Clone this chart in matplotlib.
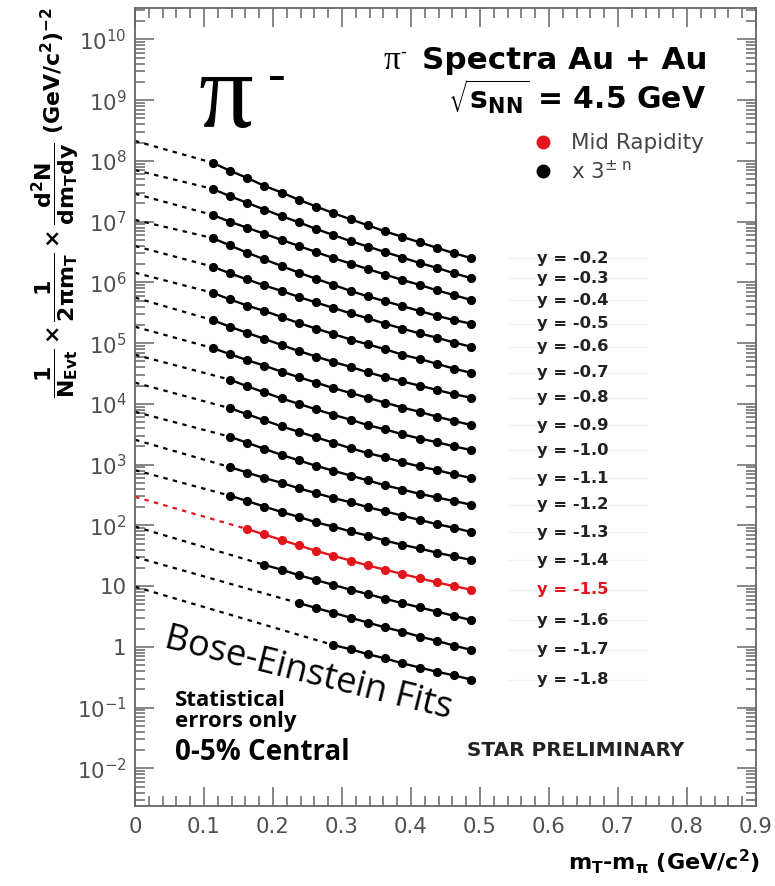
import numpy as np
import matplotlib
matplotlib.use("Agg")
import matplotlib.pyplot as plt
from matplotlib.ticker import FixedLocator, MultipleLocator, LogLocator, NullFormatter
from matplotlib.lines import Line2D

# m_T - m_pi bin centres (GeV/c^2)
mt_bins = [0.1125, 0.1375, 0.1625, 0.1875, 0.2125, 0.2375, 0.2625, 0.2875,
           0.3125, 0.3375, 0.3625, 0.3875, 0.4125, 0.4375, 0.4625, 0.4875]

rapidity = ['-0.2', '-0.3', '-0.4', '-0.5', '-0.6', '-0.7', '-0.8', '-0.9',
            '-1.0', '-1.1', '-1.2', '-1.3', '-1.4', '-1.5', '-1.6', '-1.7', '-1.8']

# index of first measured bin for every rapidity slice
first_bin = [0, 0, 0, 0, 0, 0, 0, 0, 1, 1, 1, 1, 1, 2, 3, 5, 7]

# log10 of the (scaled) yields
y_m02 = [7.97, 7.84, 7.72, 7.59, 7.48, 7.36, 7.25, 7.14, 7.04, 6.94, 6.84, 6.75, 6.66, 6.57, 6.48, 6.40]
y_m03 = [7.54, 7.42, 7.31, 7.20, 7.09, 6.99, 6.88, 6.78, 6.68, 6.59, 6.50, 6.41, 6.32, 6.24, 6.15, 6.07]
y_m04 = [7.11, 7.00, 6.90, 6.80, 6.70, 6.60, 6.50, 6.40, 6.31, 6.22, 6.13, 6.04, 5.96, 5.87, 5.79, 5.71]
y_m05 = [6.73, 6.61, 6.49, 6.38, 6.27, 6.16, 6.06, 5.96, 5.86, 5.77, 5.69, 5.61, 5.53, 5.45, 5.38, 5.32]
y_m06 = [6.26, 6.15, 6.05, 5.95, 5.86, 5.76, 5.67, 5.58, 5.49, 5.41, 5.32, 5.24, 5.16, 5.09, 5.01, 4.94]
y_m07 = [5.83, 5.72, 5.62, 5.53, 5.43, 5.33, 5.24, 5.15, 5.06, 4.98, 4.90, 4.81, 4.74, 4.66, 4.58, 4.51]
y_m08 = [5.38, 5.27, 5.17, 5.07, 4.97, 4.87, 4.78, 4.69, 4.61, 4.52, 4.44, 4.37, 4.30, 4.23, 4.16, 4.10]
y_m09 = [4.92, 4.82, 4.72, 4.63, 4.53, 4.44, 4.35, 4.26, 4.18, 4.10, 4.02, 3.94, 3.87, 3.79, 3.72, 3.65]
y_m10 = [4.40, 4.29, 4.19, 4.09, 4.00, 3.91, 3.82, 3.74, 3.65, 3.58, 3.50, 3.43, 3.37, 3.30, 3.24]
y_m11 = [3.93, 3.83, 3.73, 3.63, 3.54, 3.45, 3.36, 3.27, 3.19, 3.12, 3.04, 2.97, 2.91, 2.84, 2.78]
y_m12 = [3.46, 3.36, 3.26, 3.16, 3.07, 2.98, 2.90, 2.82, 2.74, 2.66, 2.59, 2.52, 2.46, 2.40, 2.34]
y_m13 = [2.96, 2.87, 2.78, 2.70, 2.61, 2.53, 2.45, 2.38, 2.30, 2.23, 2.16, 2.09, 2.02, 1.96, 1.89]
y_m14 = [2.49, 2.40, 2.31, 2.22, 2.14, 2.05, 1.98, 1.90, 1.83, 1.75, 1.68, 1.62, 1.55, 1.49, 1.43]
y_m15 = [1.94, 1.85, 1.76, 1.67, 1.58, 1.50, 1.42, 1.34, 1.27, 1.20, 1.13, 1.06, 1.00, 0.94]
y_m16 = [1.35, 1.27, 1.18, 1.10, 1.02, 0.94, 0.87, 0.79, 0.72, 0.65, 0.58, 0.51, 0.44]
y_m17 = [0.72, 0.64, 0.56, 0.48, 0.40, 0.32, 0.25, 0.17, 0.10, 0.02, -0.05]
y_m18 = [0.03, -0.04, -0.12, -0.19, -0.27, -0.34, -0.41, -0.47, -0.54]

spectra = [y_m02, y_m03, y_m04, y_m05, y_m06, y_m07, y_m08, y_m09, y_m10,
           y_m11, y_m12, y_m13, y_m14, y_m15, y_m16, y_m17, y_m18]

# log10 of the Bose-Einstein fit extrapolated to m_T - m_pi = 0
fit_at_zero = [8.33, 7.85, 7.46, 7.03, 6.60, 6.16, 5.75, 5.27, 4.81,
               4.35, 3.87, 3.41, 2.91, 2.47, 1.98, 1.48, 0.99]

mid_rapidity = '-1.5'
xtick_labels = ['0', '0.1', '0.2', '0.3', '0.4', '0.5', '0.6', '0.7', '0.8', '0.9']

RED = '#e3151c'
GREY = '#505050'

plt.rcParams['font.family'] = ['DejaVu Sans']
plt.rcParams['mathtext.default'] = 'regular'

fig = plt.figure(figsize=(7.75, 8.86), dpi=100)
ax = fig.add_axes([0.1742, 0.0903, 0.8013, 0.9007])

for lab, vals, k0, f0 in zip(rapidity, spectra, first_bin, fit_at_zero):
    col = RED if lab == mid_rapidity else 'black'
    x = mt_bins[k0:]
    yv = 10 ** np.array(vals)
    # extrapolated part of the fit
    ax.plot([0, x[0]], [10 ** f0, yv[0]], ls=(0, (2.0, 2.4)), color=col, lw=1.6)
    # fit across the data + data points
    ax.plot(x, yv, '-', color=col, lw=1.7)
    ax.plot(x, yv, 'o', color=col, ms=5.6, mec=col)
    # faint guide line and slice label
    ax.plot([0.54, 0.74], [yv[-1], yv[-1]], color='#f2f2f2', lw=1.0, zorder=0)
    ax.text(0.635, yv[-1], 'y = ' + lab, ha='center', va='center',
            fontsize=11.8, fontweight='bold', color=RED if lab == mid_rapidity else '#222222')

ax.set_yscale('log')
ax.set_xlim(0, 0.9)
ax.set_ylim(2.4e-3, 3.3e10)

ax.xaxis.set_major_locator(FixedLocator([0.1 * i for i in range(10)]))
ax.set_xticklabels(xtick_labels)
ax.xaxis.set_minor_locator(MultipleLocator(0.02))

ydec = list(range(-2, 11))
ax.yaxis.set_major_locator(FixedLocator([10.0 ** n for n in ydec]))
ylabels = []
for n in ydec:
    if n == 0:
        ylabels.append('1')
    elif n == 1:
        ylabels.append('10')
    else:
        ylabels.append(r'$10^{%d}$' % n)
ax.set_yticklabels(ylabels)
ax.yaxis.set_minor_locator(LogLocator(base=10, subs=np.arange(2, 10), numticks=40))
ax.yaxis.set_minor_formatter(NullFormatter())

ax.tick_params(which='both', direction='in', top=True, right=True, color='#666666', width=1.1)
ax.tick_params(which='major', length=14)
ax.tick_params(which='minor', length=7)
ax.tick_params(axis='x', which='major', labelsize=15.4, labelcolor=GREY, pad=8)
ax.tick_params(axis='y', which='major', labelsize=15.4, labelcolor=GREY, pad=6)
for sp in ax.spines.values():
    sp.set_color('#666666')
    sp.set_linewidth(1.3)

# axis titles
ax.set_ylabel(r'$\dfrac{1}{N_{Evt}}\times\dfrac{1}{2\pi m_{T}}\times\dfrac{d^{2}N}{dm_{T}dy}$ (GeV/c$^{2}$)$^{-2}$',
              fontsize=15.8, fontweight='bold')
ax.yaxis.set_label_coords(-0.086, 0.757)
fig.text(760 / 775, 1 - 862 / 886, r'$m_{T}$-$m_{\pi}$ (GeV/c$^{2}$)', ha='right', va='center',
         fontsize=16, fontweight='bold')

# big particle symbol
fig.text(198 / 775, 1 - 127 / 886, 'π', family='Liberation Serif', fontsize=78, ha='left', va='baseline')
fig.text(268 / 775, 1 - 78 / 886, '-', family='Liberation Serif', fontsize=38, ha='left', va='center')

# header
fig.text(708 / 775, 1 - 69 / 886, 'Spectra Au + Au', ha='right', va='baseline', fontsize=22.3, fontweight='bold')
fig.text(383 / 775, 1 - 69 / 886, 'π', family='Liberation Serif', fontsize=24, ha='left', va='baseline')
fig.text(400 / 775, 1 - 52 / 886, '-', fontsize=12, ha='left', va='center')
fig.text(706 / 775, 1 - 110 / 886, r'$\sqrt{s_{NN}}$ = 4.5 GeV', ha='right', va='baseline',
         fontsize=21.5, fontweight='bold')

handles = [Line2D([], [], ls='none', marker='o', ms=9, color=RED),
           Line2D([], [], ls='none', marker='o', ms=9, color='black')]
leg = ax.legend(handles, ['Mid Rapidity', r'x 3$^{\pm\ n}$'], loc='upper left',
                bbox_to_anchor=(0.643, 0.843), frameon=False, fontsize=15.5,
                handlelength=0.8, handletextpad=0.9, labelspacing=0.3, borderpad=0,
                borderaxespad=0)
for t in leg.get_texts():
    t.set_color('#444444')

# annotations
fig.text(163 / 775, 1 - 647 / 886, 'Bose-Einstein Fits', family='Open Sans', fontsize=26,
         rotation=-14, rotation_mode='anchor', ha='left', va='baseline')
fig.text(175 / 775, 1 - 711 / 886, 'Statistical\nerrors only', family='Open Sans', fontweight='bold',
         fontsize=16, ha='left', va='center', linespacing=0.95)
fig.text(175 / 775, 1 - 752 / 886, '0-5% Central', family='Open Sans', fontweight='bold',
         fontsize=20, ha='left', va='center')
fig.text(576 / 775, 1 - 750 / 886, 'STAR PRELIMINARY', fontweight='bold', fontsize=14.4,
         ha='center', va='center', color='#222222')

fig.savefig('out.png', dpi=100)
